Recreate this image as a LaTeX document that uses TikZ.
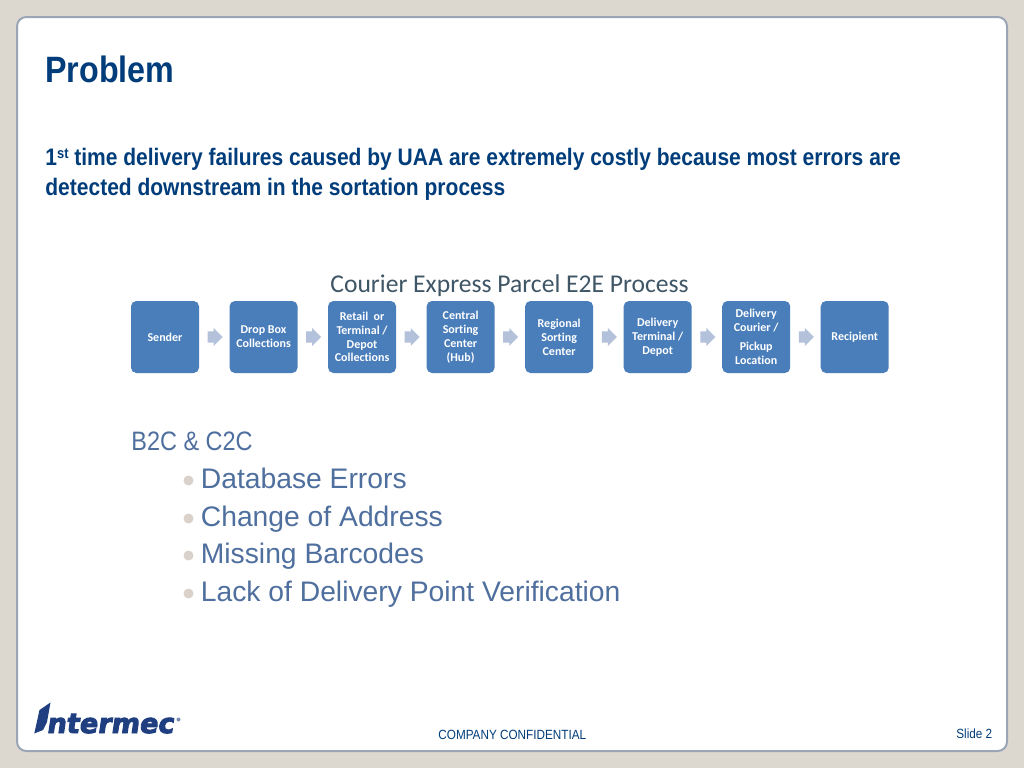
\documentclass[tikz,border=0pt]{standalone}
\usepackage{fontspec}
\setmainfont{Liberation Sans}
\newfontfamily\narrowfont[FakeStretch=0.88]{Liberation Sans}
\newfontfamily\calibrifont[Ligatures=NoCommon]{Carlito}
\newfontfamily\logofont[FakeSlant=0.15,FakeBold=3.5]{DejaVu Sans}
\usetikzlibrary{shapes.arrows}

\definecolor{slidebg}{HTML}{DDD8CF}
\definecolor{cardline}{HTML}{9AA5B5}
\definecolor{headblue}{HTML}{003D7A}
\definecolor{stageblue}{HTML}{4A7EBB}
\definecolor{arrowblue}{HTML}{B3C1DA}
\definecolor{listblue}{HTML}{4F6F9E}
\definecolor{dotgrey}{HTML}{D9D1CA}
\definecolor{flowtitle}{HTML}{3F5666}
\definecolor{logoblue}{HTML}{1F3F80}

\begin{document}
\begin{tikzpicture}[
            x = 0.75pt, y = -0.75pt, % one unit is one pixel of the slide
            node distance = 73.9pt, % distance between stages
            semithick % line style
        ]

        \tikzstyle{stage}=[
            draw = none,
            fill = stageblue,
            rounded corners = 4pt,
            minimum width = 51pt,
            minimum height = 54pt,
            inner sep = 0pt,
            align = center,
            text = white,
            font = \calibrifont\bfseries\fontsize{9}{10.4}\selectfont
        ]
        \tikzstyle{flowarrow}=[
            single arrow,
            fill = arrowblue,
            minimum width = 12.75pt,
            minimum height = 11.25pt,
            single arrow head extend = 2.4pt,
            inner xsep = 0pt,
            inner ysep = 4pt,
            xshift = -1.5pt
        ]
        \tikzstyle{textline}=[
            anchor = base west,
            inner sep = 0pt
        ]
        \tikzstyle{listitem}=[
            textline,
            text = listblue,
            font = \fontsize{21.2}{24}\selectfont
        ]
        \tikzstyle{listdot}=[
            circle,
            fill = dotgrey,
            minimum size = 7.5pt,
            inner sep = 0pt
        ]

        % slide background
        \fill[slidebg] (0,0) rectangle (1024,768);
        \draw[cardline, line width = 1.5pt, fill = white, rounded corners = 7pt] (17,17) rectangle (1007,751);

        % heading
        \node[textline, text = headblue, font = \narrowfont\bfseries\fontsize{27.5}{32}\selectfont] (title) at (45,82) {Problem};
        \node[textline, text = headblue, font = \narrowfont\bfseries\fontsize{17.9}{22}\selectfont] (lineone) at (45,165) {1\raisebox{0.55ex}{\fontsize{11}{11}\selectfont st} time delivery failures caused by UAA are extremely costly because most errors are};
        \node[textline, text = headblue, font = \narrowfont\bfseries\fontsize{17.9}{22}\selectfont] (linetwo) at (45,195) {detected downstream in the sortation process};

        % process flow
        \node[textline, text = flowtitle, font = \calibrifont\fontsize{19.2}{22}\selectfont] (flowname) at (330,292) {Courier Express Parcel E2E Process};

        \node[stage] (sender) at (165,337) {Sender};
        \node[stage] (dropbox) [right of=sender] {Drop Box\\Collections};
        \node[stage] (retail) [right of=dropbox] {Retail~~or\\Terminal /\\Depot\\Collections};
        \node[stage] (central) [right of=retail] {Central\\Sorting\\Center\\(Hub)};
        \node[stage] (regional) [right of=central] {Regional\\Sorting\\Center};
        \node[stage] (terminal) [right of=regional] {Delivery\\Terminal /\\Depot};
        \node[stage] (courier) [right of=terminal] {Delivery\\Courier /\\[4pt]Pickup\\Location};
        \node[stage] (recipient) [right of=courier] {Recipient};

        \path (sender) -- node[flowarrow] (arrowa) {} (dropbox);
        \path (dropbox) -- node[flowarrow] (arrowb) {} (retail);
        \path (retail) -- node[flowarrow] (arrowc) {} (central);
        \path (central) -- node[flowarrow] (arrowd) {} (regional);
        \path (regional) -- node[flowarrow] (arrowe) {} (terminal);
        \path (terminal) -- node[flowarrow] (arrowf) {} (courier);
        \path (courier) -- node[flowarrow] (arrowg) {} (recipient);

        % error list
        \node[textline, text = listblue, font = \narrowfont\fontsize{20}{24}\selectfont] (segment) at (131,450) {B2C \& C2C};
        \node[listitem] (database) at (200.5,488.5) {Database Errors};
        \node[listitem] (address) at (200.5,526) {Change of Address};
        \node[listitem] (barcodes) at (200.5,563.5) {Missing Barcodes};
        \node[listitem] (lack) at (200.5,601) {Lack of Delivery Point Verification};

        \node[listdot] (dota) at (188.5,480.5) {};
        \node[listdot] (dotb) at (188.5,518.5) {};
        \node[listdot] (dotc) at (188.5,555.5) {};
        \node[listdot] (dotd) at (188.5,593.5) {};

        % logo
        \fill[logoblue] (34.3,733.5) -- (39.5,710) -- (50.5,702.5) -- (47,722) -- (43,730) -- cycle;
        \node[textline, text = logoblue, font = \logofont\bfseries\fontsize{20.4}{24}\selectfont] (logo) at (46,733) {ntermec};
        \node[circle, fill = logoblue!60, minimum size = 3pt, inner sep = 0pt] (regmark) at (178.5,719.5) {};

        % footer
        \node[textline, text = headblue, font = \narrowfont\fontsize{10}{12}\selectfont] (confidential) at (438,739) {COMPANY CONFIDENTIAL};
        \node[textline, text = headblue, font = \narrowfont\fontsize{10}{12}\selectfont] (slideno) at (956,738) {Slide 2};

  \end{tikzpicture}
\end{document}
